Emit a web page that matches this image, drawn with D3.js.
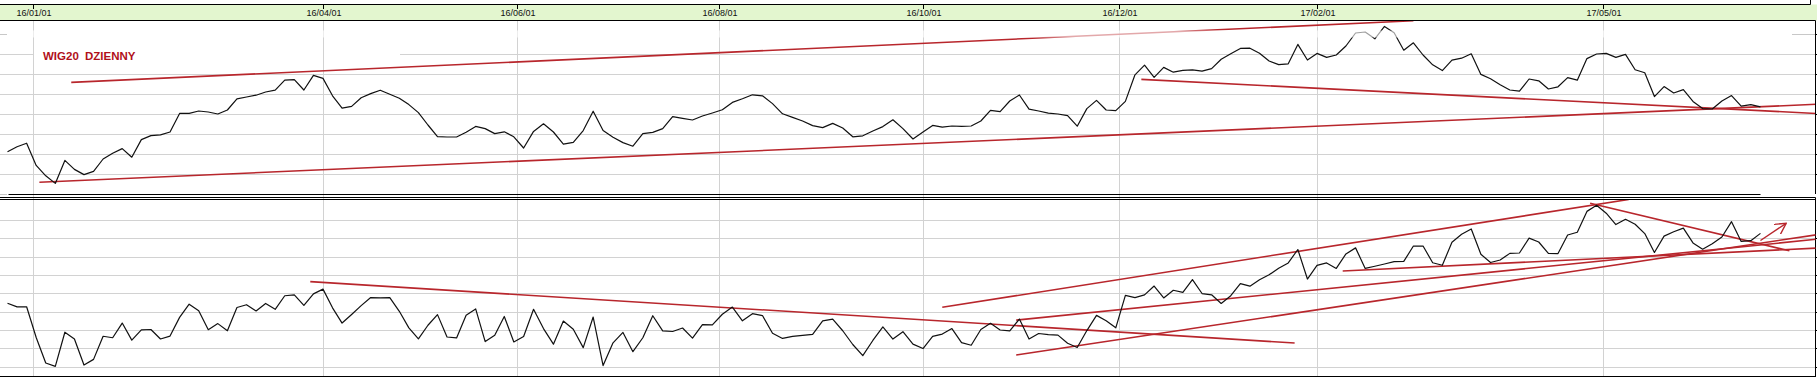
<!DOCTYPE html>
<html>
<head>
<meta charset="utf-8">
<script src="https://cdnjs.cloudflare.com/ajax/libs/d3/7.8.5/d3.min.js"></script>
<style>
    body { margin: 0; background: #fff; }
    svg { display: block; font-family: "Liberation Sans", Arial, sans-serif; }
</style>
</head>
<body>
<svg id="chart" width="1817" height="377"></svg>
<script>
// axis ticks (yy/mm/dd)
var tickDates = ["2016-01-01", "2016-04-01", "2016-06-01", "2016-08-01", "2016-10-01", "2016-12-01", "2017-02-01", "2017-05-01"];
var tickLabels = ["16/01/01", "16/04/01", "16/06/01", "16/08/01", "16/10/01", "16/12/01", "17/02/01", "17/05/01"];

// one reading every 3 days from the first date
var startDate = "2015-12-24";
var stepDays = 3;

// WIG20 daily close (upper panel)
var wig20 = [
    1811, 1836, 1854, 1743, 1691, 1653, 1768, 1723, 1697, 1713,
    1775, 1804, 1827, 1784, 1872, 1892, 1896, 1910, 2003, 2003,
    2015, 2010, 2000, 2020, 2076, 2085, 2094, 2110, 2119, 2169,
    2172, 2120, 2193, 2178, 2091, 2029, 2038, 2081, 2102, 2119,
    2099, 2079, 2047, 2007, 1945, 1887, 1885, 1885, 1909, 1938,
    1927, 1902, 1911, 1886, 1830, 1913, 1951, 1910, 1849, 1858,
    1917, 2014, 1917, 1884, 1857, 1839, 1902, 1908, 1927, 1987,
    1978, 1970, 1990, 2005, 2021, 2058, 2076, 2096, 2091, 2052,
    2001, 1983, 1965, 1942, 1932, 1953, 1930, 1886, 1891, 1915,
    1937, 1971, 1927, 1875, 1910, 1943, 1934, 1940, 1938, 1940,
    1965, 2018, 2012, 2065, 2095, 2024, 2015, 2004, 2000, 1992,
    1939, 2027, 2068, 2020, 2017, 2063, 2196, 2244, 2183, 2233,
    2209, 2218, 2221, 2214, 2227, 2274, 2301, 2328, 2329, 2304,
    2265, 2247, 2251, 2348, 2270, 2303, 2283, 2295, 2340, 2405,
    2410, 2376, 2438, 2406, 2319, 2356, 2295, 2246, 2217, 2269,
    2279, 2301, 2198, 2176, 2146, 2120, 2114, 2175, 2166, 2125,
    2136, 2182, 2169, 2277, 2300, 2303, 2283, 2298, 2221, 2206,
    2087, 2137, 2105, 2122, 2063, 2027, 2025, 2065, 2092, 2039,
    2047, 2036
];

// oscillator (lower panel)
var osc = [
    44.6, 42.6, 42.7, 25.9, 12.0, 10.2, 28.8, 25.1, 10.9, 14.0,
    26.6, 25.8, 33.8, 24.5, 30.1, 30.3, 25.1, 26.7, 36.9, 44.1,
    40.5, 30.2, 33.5, 29.6, 42.3, 43.8, 40.4, 44.5, 41.3, 48.7,
    49.2, 43.4, 49.7, 52.3, 42.1, 33.8, 38.5, 43.3, 47.7, 47.5,
    47.7, 40.2, 31.2, 25.2, 32.6, 38.4, 26.2, 25.7, 38.1, 41.5,
    23.7, 27.2, 37.4, 23.5, 26.5, 41.3, 30.8, 22.3, 34.9, 30.4,
    20.4, 37.1, 10.6, 23.0, 28.7, 18.2, 25.8, 37.8, 29.5, 29.2,
    31.1, 25.6, 32.9, 32.8, 38.6, 42.5, 35.0, 38.9, 37.9, 28.2,
    25.4, 26.5, 27.1, 27.6, 35.0, 35.9, 29.6, 22.1, 16.0, 24.3,
    31.7, 25.1, 29.1, 22.3, 19.9, 26.5, 27.8, 30.8, 23.1, 21.7,
    30.3, 33.7, 30.0, 29.5, 36.0, 25.1, 28.1, 27.5, 27.2, 22.8,
    20.5, 29.7, 38.0, 35.1, 31.2, 48.9, 47.7, 49.2, 54.0, 47.5,
    51.7, 50.5, 57.5, 49.9, 49.2, 44.5, 48.7, 55.3, 53.9, 57.4,
    60.1, 63.7, 66.6, 73.9, 57.8, 65.3, 66.6, 63.6, 71.5, 74.8,
    63.6, 64.8, 66.0, 67.3, 67.4, 75.8, 75.8, 66.7, 65.3, 77.9,
    82.2, 85.1, 71.3, 66.8, 68.2, 71.8, 72.0, 80.1, 78.0, 71.8,
    71.7, 81.8, 83.3, 94.7, 98.0, 93.7, 87.5, 90.4, 87.7, 82.6,
    72.3, 81.2, 83.6, 85.6, 77.5, 74.1, 77.0, 80.7, 89.1, 78.3,
    78.7, 82.7
];

// hand drawn trend lines: [date1, value1, date2, value2]
var wigTrends = [
    ["2016-01-13", 2158, "2017-03-03", 2466],
    ["2016-01-03", 1659, "2017-07-07", 2049],
    ["2016-12-08", 2173, "2017-07-07", 2002]
];
var oscTrends = [
    ["2016-03-28", 56.4, "2017-01-25", 22.9],
    ["2016-10-07", 42.4, "2017-05-09", 101.2],
    ["2016-10-30", 35.4, "2017-07-07", 79.6],
    ["2016-10-30", 16.4, "2017-07-07", 82.1],
    ["2017-02-09", 62.2, "2017-07-07", 74.7],
    ["2017-04-27", 99.1, "2017-06-28", 73.2]
];
var oscArrow = ["2017-06-19", 78.8, "2017-06-27", 88.2];

var parse = d3.timeParse("%Y-%m-%d");
var start = parse(startDate);
var dates = wig20.map((v, i) => d3.timeDay.offset(start, i * stepDays));

var svg = d3.select("#chart"),
    W = +svg.attr("width"),
    frameR = 1815.5,
    red = "#b8262c";

// the time axis is spaced by sessions, so pin every tick
var x = d3.scaleTime()
    .domain(tickDates.map(parse))
    .range([33, 323, 517, 719, 923, 1119, 1317, 1603]);

var yTop = d3.scaleLinear().domain([1600, 2400]).range([194, 34]);
var yBot = d3.scaleLinear().domain([10, 90]).range([366.7, 220]);

var px = v => Math.round(v) + 0.5;

function hline(y, x1, x2, color) {
    svg.append("line")
        .attr("x1", x1).attr("x2", x2)
        .attr("y1", y).attr("y2", y)
        .attr("stroke", color).attr("stroke-width", 1);
}

// ---- header band with dates
svg.append("rect")
    .attr("x", 0).attr("y", 4.5)
    .attr("width", W).attr("height", 16)
    .attr("fill", "#e3f6cf");
hline(4.5, 0, 1810.5, "#000");
svg.append("line").attr("x1", 1810.5).attr("x2", 1810.5).attr("y1", 0).attr("y2", 4.5).attr("stroke", "#000");
hline(20.5, 0, frameR, "#000");

var head = svg.append("g");
head.selectAll("line")
    .data(tickDates)
    .join("line")
    .attr("x1", d => px(x(parse(d))))
    .attr("x2", d => px(x(parse(d))))
    .attr("y1", 4.5).attr("y2", 9)
    .attr("stroke", "#000");
head.selectAll("text")
    .data(tickDates)
    .join("text")
    .attr("x", d => x(parse(d)) + 1)
    .attr("y", 16)
    .attr("text-anchor", "middle")
    .attr("font-size", "9px")
    .attr("fill", "#111")
    .text((d, i) => tickLabels[i]);

// ---- grid
var grid = svg.append("g").attr("stroke", "#d2d2d2").attr("stroke-width", 1);
grid.selectAll(".v")
    .data(tickDates)
    .join("line")
    .attr("class", "v")
    .attr("x1", d => px(x(parse(d))))
    .attr("x2", d => px(x(parse(d))))
    .attr("y1", 21).attr("y2", 376);

var topGrid = d3.range(1700, 2301, 100);
topGrid.forEach(function (v) {
    var y = px(yTop(v));
    if (v == 2300) {
        hline(y, 0, px(x(parse(tickDates[0]))), "#d2d2d2");
        hline(y, 400, frameR, "#d2d2d2");
    } else {
        hline(y, 0, frameR, "#d2d2d2");
    }
});
// short stubs only for the outer values
hline(px(yTop(2400)), 0, 7, "#c8c8c8");
hline(px(yTop(2400)), 1792, frameR, "#c8c8c8");
hline(px(yTop(1600)), 0, 7, "#c8c8c8");

var botGrid = d3.range(10, 91, 10);
botGrid.forEach(v => hline(px(yBot(v)), 0, frameR, "#d2d2d2"));

// right side ticks
topGrid.concat([2400]).forEach(v => hline(px(yTop(v)), frameR, W, "#000"));
botGrid.forEach(v => hline(px(yBot(v)), frameR, W, "#000"));

// ---- clips
var defs = svg.append("defs");
defs.append("clipPath").attr("id", "clipTop")
    .append("rect").attr("x", 0).attr("y", 21).attr("width", frameR).attr("height", 173);
defs.append("clipPath").attr("id", "clipBot")
    .append("rect").attr("x", 0).attr("y", 200).attr("width", frameR).attr("height", 176);
defs.append("marker")
    .attr("id", "arrow")
    .attr("viewBox", "0 -6 12 12")
    .attr("refX", 11).attr("refY", 0)
    .attr("markerWidth", 12).attr("markerHeight", 12)
    .attr("markerUnits", "userSpaceOnUse")
    .attr("orient", "auto")
    .append("path")
    .attr("d", "M0,-6L11,0L0,6")
    .attr("fill", "none")
    .attr("stroke", red)
    .attr("stroke-width", 1.4);

// ---- upper panel
var topG = svg.append("g").attr("clip-path", "url(#clipTop)");
var lineTop = d3.line()
    .x((d, i) => x(dates[i]))
    .y(d => yTop(d));

topG.append("g")
    .selectAll("line")
    .data(wigTrends)
    .join("line")
    .attr("x1", d => x(parse(d[0])))
    .attr("y1", d => yTop(d[1]))
    .attr("x2", d => x(parse(d[2])))
    .attr("y2", d => yTop(d[3]))
    .attr("stroke", red)
    .attr("stroke-width", 1.6);

topG.append("path")
    .datum(wig20)
    .attr("d", lineTop)
    .attr("fill", "none")
    .attr("stroke", "#111")
    .attr("stroke-width", 1.2)
    .attr("stroke-linejoin", "round");

// faded band round the top grid value
topG.append("rect")
    .attr("x", 7).attr("y", px(yTop(2400)) - 4)
    .attr("width", 1785).attr("height", 7)
    .attr("fill", "#fff").attr("opacity", 0.6);

svg.append("text")
    .attr("x", 43)
    .attr("y", 60)
    .attr("font-size", "11.5px")
    .attr("font-weight", "bold")
    .attr("word-spacing", "3px")
    .attr("fill", "#b0101a")
    .text("WIG20 DZIENNY");

// ---- separator between panels
hline(194.5, px(x(dates[0])), px(x(dates[dates.length - 1])), "#000");
hline(197.5, 0, frameR, "#000");
hline(199.5, 0, frameR, "#000");
hline(376.5, 0, frameR, "#000");
svg.append("line").attr("x1", frameR).attr("x2", frameR).attr("y1", 20.5).attr("y2", 194).attr("stroke", "#000");
svg.append("line").attr("x1", frameR).attr("x2", frameR).attr("y1", 197.5).attr("y2", 377).attr("stroke", "#000");

// ---- lower panel
var botG = svg.append("g").attr("clip-path", "url(#clipBot)");
var lineBot = d3.line()
    .x((d, i) => x(dates[i]))
    .y(d => yBot(d));

botG.append("g")
    .selectAll("line")
    .data(oscTrends)
    .join("line")
    .attr("x1", d => x(parse(d[0])))
    .attr("y1", d => yBot(d[1]))
    .attr("x2", d => x(parse(d[2])))
    .attr("y2", d => yBot(d[3]))
    .attr("stroke", red)
    .attr("stroke-width", 1.6);

botG.append("path")
    .datum(osc)
    .attr("d", lineBot)
    .attr("fill", "none")
    .attr("stroke", "#111")
    .attr("stroke-width", 1.2)
    .attr("stroke-linejoin", "round");

botG.append("line")
    .attr("x1", x(parse(oscArrow[0])))
    .attr("y1", yBot(oscArrow[1]))
    .attr("x2", x(parse(oscArrow[2])))
    .attr("y2", yBot(oscArrow[3]))
    .attr("stroke", red)
    .attr("stroke-width", 1.4)
    .attr("marker-end", "url(#arrow)");
</script>
</body>
</html>
